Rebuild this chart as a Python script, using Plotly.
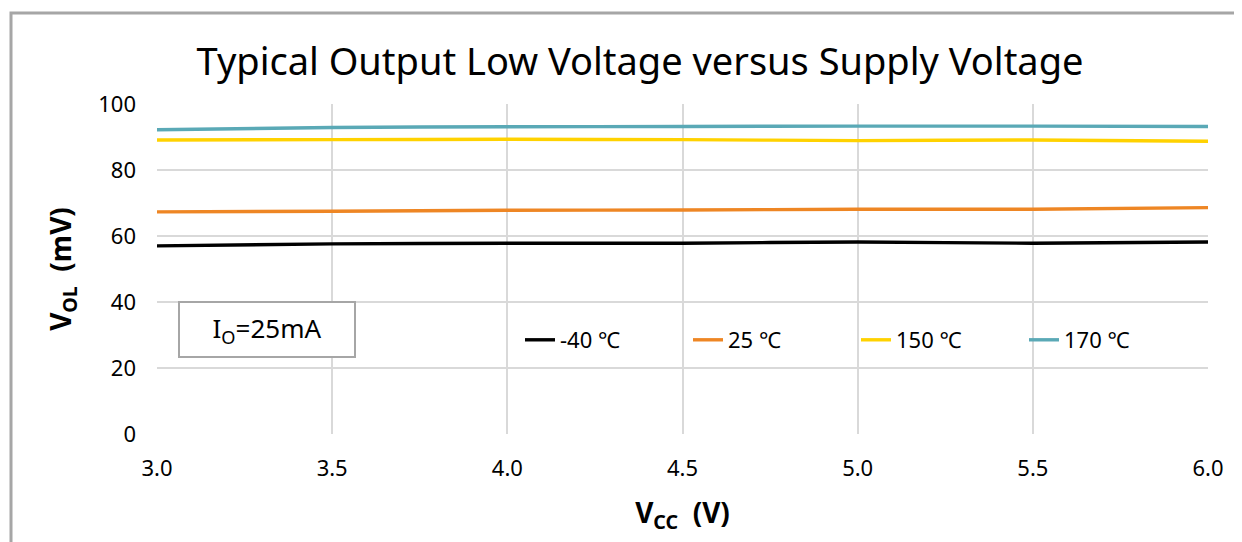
import plotly.graph_objects as go

vcc = [3.0, 3.5, 4.0, 4.5, 5.0, 5.5, 6.0]
vol_m40 = [57.0, 57.6, 57.8, 57.8, 58.2, 57.8, 58.2]
vol_25 = [67.3, 67.5, 67.8, 67.9, 68.1, 68.1, 68.6]
vol_150 = [89.1, 89.2, 89.3, 89.2, 88.9, 89.1, 88.7]
vol_170 = [92.2, 92.9, 93.1, 93.2, 93.3, 93.3, 93.2]
series_names = ["-40 ℃", "25 ℃", "150 ℃", "170 ℃"]
series_colors = ["#000000", "#EE8624", "#FFD200", "#5AA9B6"]
x_ticks = [3.0, 3.5, 4.0, 4.5, 5.0, 5.5, 6.0]
y_ticks = [0, 20, 40, 60, 80, 100]

FONT = "Noto Sans, Noto Sans CJK SC, sans-serif"
OFF = 8  # page body margin
W, H = 1242 - OFF, 542 - OFF
L, R, T, B = 157 - OFF, 34, 104 - OFF, 108
pw, ph = W - L - R, H - T - B

def px2x(px):
    return (px - 157) / pw

def px2y(py):
    return (434 - py) / ph

fig = go.Figure()
for name, ys, c in zip(series_names, [vol_m40, vol_25, vol_150, vol_170], series_colors):
    fig.add_trace(go.Scatter(x=vcc, y=ys, name=name, mode="lines",
                             line=dict(color=c, width=3.4, shape="spline", smoothing=0.6)))

fig.update_layout(
    width=W, height=H,
    margin=dict(l=L, r=R, t=T, b=B),
    paper_bgcolor="white", plot_bgcolor="white",
    font=dict(family=FONT, size=22, color="#000000"),
    title=dict(text="Typical Output Low Voltage versus Supply Voltage",
               x=(640 - OFF) / W, xanchor="center", xref="container",
               y=1 - (62 - OFF) / H, yanchor="middle", yref="container",
               font=dict(size=38, family=FONT, color="#000000")),
    xaxis=dict(range=[3.0, 6.0], tickvals=x_ticks, ticktext=[f"{v:.1f}" for v in x_ticks],
               showgrid=True, gridcolor="#D9D9D9", gridwidth=2, zeroline=False,
               showline=False, ticks="", tickfont=dict(size=22), ticklabelstandoff=19,
               title=dict(text="<b>V<sub>CC</sub>\u00a0 (V)</b>", font=dict(size=28), standoff=22)),
    yaxis=dict(range=[0, 100], tickvals=y_ticks, showgrid=True, gridcolor="#D9D9D9",
               gridwidth=2, zeroline=False, showline=False, ticks="",
               tickfont=dict(size=22), ticklabelstandoff=20,
               title=dict(text="<b>V<sub>OL</sub>\u00a0 (mV)</b>", font=dict(size=28), standoff=18)),
    legend=dict(orientation="h", x=px2x(520), y=px2y(340), xanchor="left", yanchor="middle",
                bgcolor="rgba(0,0,0,0)", font=dict(size=22), entrywidth=123,
                entrywidthmode="pixels", itemwidth=30),
    showlegend=True,
)

fig.add_annotation(text="I<sub>O</sub>=25mA", xref="paper", yref="paper",
                   x=px2x(267), y=px2y(329.5), xanchor="center", yanchor="middle",
                   showarrow=False, font=dict(size=26), bordercolor="#A6A6A6",
                   borderwidth=2, width=172, height=51, bgcolor="white")

fig.add_shape(type="rect", xref="paper", yref="paper",
              x0=px2x(11), x1=px2x(1300), y0=px2y(13), y1=px2y(600),
              line=dict(color="#A6A6A6", width=3), fillcolor="rgba(0,0,0,0)", layer="below")

fig.write_html("out.html")
